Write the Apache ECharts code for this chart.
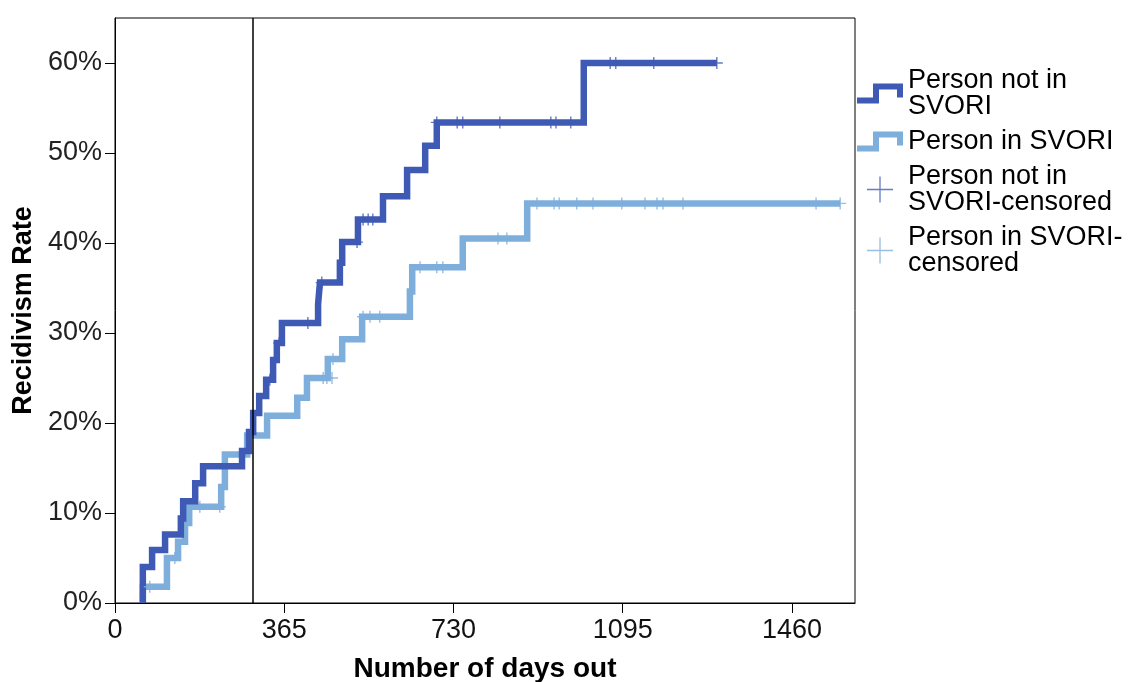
<!DOCTYPE html>
<html>
<head>
<meta charset="utf-8">
<script src="https://cdn.jsdelivr.net/npm/echarts@6/dist/echarts.min.js"></script>
<style>
  html, body { margin: 0; padding: 0; background: #fff; }
  #main { width: 1128px; height: 682px; }
</style>
</head>
<body>
<div id="main"></div>
<script>
// step curves: [day, cumulative rate %]
var notInSvori = [
  [60, 0], [60, 4.0], [80, 5.9], [108, 7.6], [142, 9.4], [147, 11.3], [173, 13.3], [190, 15.2],
  [274, 16.9], [289, 19.0], [298, 21.1], [311, 23.0], [326, 24.8], [341, 27.0], [349, 28.9],
  [360, 31.1], [438, 33.2], [442, 35.6], [485, 37.8], [490, 40.1], [524, 42.6], [578, 45.2],
  [630, 48.1], [669, 50.8], [694, 53.4], [1011, 60.0], [1298, 60.0]
];
var inSvori = [
  [60, 0], [60, 1.8], [112, 5.0], [136, 6.8], [151, 8.9], [160, 10.7], [229, 12.9], [237, 16.5],
  [285, 18.6], [328, 20.8], [393, 22.8], [414, 25.0], [459, 27.1], [490, 29.3], [533, 31.8],
  [636, 34.6], [641, 37.3], [750, 40.5], [889, 44.4], [1564, 44.4]
];
// censored cases
var notInSvoriCensored = [
  [334, 24.8], [354, 28.9], [416, 31.1], [446, 35.6], [522, 40.1], [535, 42.6], [546, 42.6],
  [556, 42.6], [694, 53.4], [738, 53.4], [750, 53.4], [830, 53.4], [940, 53.4], [951, 53.4],
  [983, 53.4], [1068, 60.0], [1080, 60.0], [1162, 60.0], [1298, 60.0]
];
var inSvoriCensored = [
  [75, 1.8], [129, 5.0], [183, 10.7], [226, 10.7], [449, 25.0], [457, 25.0], [468, 25.0],
  [470, 27.1], [535, 31.8], [550, 31.8], [571, 31.8], [658, 37.3], [694, 37.3], [707, 37.3],
  [826, 40.5], [845, 40.5], [910, 44.4], [947, 44.4], [958, 44.4], [996, 44.4], [1031, 44.4],
  [1093, 44.4], [1143, 44.4], [1169, 44.4], [1182, 44.4], [1225, 44.4], [1512, 44.4], [1564, 44.4]
];
var xTicks = [0, 365, 730, 1095, 1460];
var yTicks = [0, 10, 20, 30, 40, 50, 60];
var cutoffDay = 298;

var darkBlue = '#3f5ab4';
var lightBlue = '#7eaedb';
var stepIcon = 'path://M0,14H22V20H0Z M16,0H22V20H16Z M16,0H46V6H16Z M40,0H46V14H40Z';
var plusIcon = 'path://M0,13.3H28V14.7H0Z M13.3,0H14.7V28H13.3Z';
var plusMark = 'path://M0,5.3H12V6.7H0Z M5.3,0H6.7V12H5.3Z';
var font = 'Liberation Sans, Arial';

var myChart = echarts.init(document.getElementById('main'));

var option = {
  animation: false,
  grid: {
    left: 115, top: 18, right: 273, bottom: 79,
    outerBoundsMode: 'none',
    containLabel: false,
    show: true, borderColor: '#000', borderWidth: 1
  },
  legend: {
    orient: 'vertical',
    left: 857, top: 67,
    padding: 0,
    itemGap: 8,
    itemWidth: 46,
    itemHeight: 26,
    textStyle: { fontFamily: font, fontSize: 27, lineHeight: 26, color: '#000' },
    data: [
      { name: 'Person not in\nSVORI', icon: stepIcon, itemStyle: { color: darkBlue } },
      { name: 'Person in SVORI', icon: stepIcon, itemStyle: { color: lightBlue } },
      { name: 'Person not in\nSVORI-censored', icon: plusIcon, itemStyle: { color: darkBlue } },
      { name: 'Person in SVORI-\ncensored', icon: plusIcon, itemStyle: { color: lightBlue } }
    ]
  },
  xAxis: {
    type: 'value',
    min: 0, max: 1596, interval: 365,
    name: 'Number of days out',
    nameLocation: 'middle',
    nameGap: 52,
    nameTextStyle: { fontFamily: font, fontSize: 28, fontWeight: 'bold', color: '#000' },
    axisLine: { lineStyle: { color: '#000', width: 1 } },
    axisTick: { show: true, length: 10, lineStyle: { color: '#000' }, customValues: xTicks },
    axisLabel: {
      fontFamily: font, fontSize: 27, color: '#111', margin: 14,
      customValues: xTicks,
      formatter: function (v) { return String(v); }
    },
    splitLine: { show: false }
  },
  yAxis: {
    type: 'value',
    min: 0, max: 65, interval: 10,
    name: 'Recidivism Rate',
    nameLocation: 'middle',
    nameGap: 78,
    nameTextStyle: { fontFamily: font, fontSize: 27, fontWeight: 'bold', color: '#000' },
    axisLine: { show: true, lineStyle: { color: '#000', width: 1 } },
    axisTick: { show: true, length: 10, lineStyle: { color: '#000' }, customValues: yTicks },
    axisLabel: {
      fontFamily: font, fontSize: 27, color: '#222', margin: 13,
      customValues: yTicks,
      formatter: function (v) { return v + '%'; }
    },
    splitLine: { show: false }
  },
  series: [
    {
      name: 'Person not in\nSVORI',
      type: 'line',
      step: 'end',
      symbol: 'none',
      color: darkBlue,
      lineStyle: { width: 6.5, color: darkBlue, cap: 'butt', join: 'miter' },
      data: notInSvori,
      z: 3,
      markLine: {
        silent: true,
        symbol: 'none',
        label: { show: false },
        lineStyle: { color: '#000', width: 1.5, type: 'solid' },
        data: [{ xAxis: cutoffDay }]
      }
    },
    {
      name: 'Person in SVORI',
      type: 'line',
      step: 'end',
      symbol: 'none',
      color: lightBlue,
      lineStyle: { width: 6.5, color: lightBlue, cap: 'butt', join: 'miter' },
      data: inSvori,
      z: 2
    },
    {
      name: 'Person not in\nSVORI-censored',
      type: 'scatter',
      symbol: plusMark,
      symbolSize: 12,
      itemStyle: { color: darkBlue },
      data: notInSvoriCensored,
      z: 4
    },
    {
      name: 'Person in SVORI-\ncensored',
      type: 'scatter',
      symbol: plusMark,
      symbolSize: 12,
      itemStyle: { color: lightBlue },
      data: inSvoriCensored,
      z: 4
    }
  ]
};

myChart.setOption(option);
</script>
</body>
</html>
